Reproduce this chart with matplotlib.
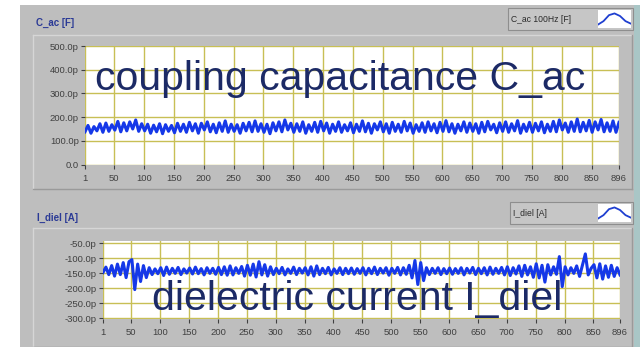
import matplotlib
matplotlib.use("Agg")
import matplotlib.pyplot as plt
from matplotlib.patches import Rectangle
from matplotlib.lines import Line2D

W, H = 640, 347

# ---------------- data ----------------
x_points = list(range(1, 897, 5))  # 1, 6, ..., 896

c_ac_pF = [
    138,165,132,160,142,172,136,175,140,168,
    145,182,138,176,142,180,150,188,140,172,
    142,170,132,166,138,172,130,168,140,165,
    134,174,140,170,136,178,142,172,132,174,
    146,180,138,170,134,176,140,184,136,170,
    140,168,132,174,142,178,138,184,140,172,
    136,170,130,176,142,180,138,188,146,174,
    136,172,140,180,132,168,140,178,136,182,
    142,175,132,170,140,180,136,168,142,176,
    134,170,140,184,138,174,132,172,146,180,
    138,172,132,178,140,170,136,182,142,175,
    132,168,140,176,136,180,142,172,134,178,
    140,185,138,172,132,170,142,180,136,175,
    140,172,132,178,138,182,146,170,134,176,
    140,180,136,172,142,185,132,170,140,178,
    136,174,142,180,134,170,140,182,138,188,
    146,175,136,180,140,192,138,178,142,186,
    136,180,146,190,138,176,140,184,136,178,
]

i_diel_pA = [
    -148,-130,-155,-125,-160,-120,-155,-115,-165,-112,
    -105,-205,-120,-178,-125,-165,-132,-155,-136,-152,
    -132,-158,-130,-154,-134,-151,-131,-155,-136,-150,
    -133,-153,-130,-152,-135,-156,-132,-151,-134,-154,
    -131,-155,-129,-157,-126,-156,-132,-151,-128,-160,
    -124,-157,-120,-163,-112,-156,-122,-160,-129,-155,
    -134,-152,-131,-156,-136,-151,-130,-155,-134,-150,
    -132,-156,-129,-160,-126,-155,-134,-152,-131,-156,
    -136,-151,-132,-155,-134,-152,-133,-154,-135,-151,
    -132,-156,-134,-152,-130,-155,-134,-150,-132,-157,
    -134,-151,-131,-156,-132,-154,-124,-166,-108,-188,
    -115,-175,-132,-155,-134,-151,-132,-155,-135,-152,
    -133,-154,-135,-151,-132,-156,-134,-150,-131,-155,
    -134,-152,-132,-156,-130,-154,-134,-151,-131,-156,
    -129,-158,-132,-153,-126,-161,-124,-156,-129,-164,
    -119,-166,-124,-180,-122,-156,-129,-154,-95,-195,
    -129,-156,-132,-151,-126,-161,-124,-86,-156,-134,
    -122,-166,-119,-170,-126,-164,-124,-161,-132,-156,
]

x_ticks = [1, 50, 100, 150, 200, 250, 300, 350, 400, 450, 500,
           550, 600, 650, 700, 750, 800, 850, 896]
top_yticks = [0, 100, 200, 300, 400, 500]
top_ylabels = ["0.0", "100.0p", "200.0p", "300.0p", "400.0p", "500.0p"]
bot_yticks = [-300, -250, -200, -150, -100, -50]
bot_ylabels = ["-300.0p", "-250.0p", "-200.0p", "-150.0p", "-100.0p", "-50.0p"]

top_title = "C_ac [F]"
bot_title = "I_diel [A]"
top_legend = "C_ac 100Hz [F]"
bot_legend = "I_diel [A]"
top_overlay = "coupling capacitance C_ac"
bot_overlay = "dielectric current I_diel"

# ---------------- styling ----------------
plt.rcParams['font.family'] = ['Liberation Sans', 'DejaVu Sans']
GRAY = '#bebebe'
GRID = '#c8bf55'
LINE = '#1538e8'
TITLE_C = '#2b3a96'
OVER_C = '#1c2a66'
TICK_C = '#404040'

fig = plt.figure(figsize=(W / 100, H / 100), dpi=100)
fig.patch.set_facecolor('white')


def fx(x):
    return x / W


def fy(y):
    return 1 - y / H


def rect(x0, y0, x1, y1, z=0, **kw):
    r = Rectangle((fx(x0), fy(y1)), fx(x1) - fx(x0), fy(y0) - fy(y1),
                  transform=fig.transFigure, zorder=z, **kw)
    fig.add_artist(r)
    return r


def hline(x0, x1, y, color, lw=1):
    fig.add_artist(Line2D([fx(x0), fx(x1)], [fy(y), fy(y)], color=color,
                          lw=lw, transform=fig.transFigure, zorder=-1))


def vline(x, y0, y1, color, lw=1):
    fig.add_artist(Line2D([fx(x), fx(x)], [fy(y0), fy(y1)], color=color,
                          lw=lw, transform=fig.transFigure, zorder=-1))


# background panel
rect(20, 5, 640, 347, z=-3, facecolor=GRAY, edgecolor='none')
rect(634, 5, 640, 347, z=-3, facecolor='#a9c6c6', edgecolor='none')

# panel frames
for (x0, y0, x1, y1) in [(33, 35, 632, 189), (33, 228, 632, 347)]:
    hline(x0, x1, y0, '#d6d6d6')
    vline(x0, y0, y1, '#d6d6d6')
    hline(x0, x1, y1, '#9a9a9a')
    vline(x1, y0, y1, '#9a9a9a')

# titles
fig.text(fx(36), fy(23), top_title, color=TITLE_C, fontsize=7,
         fontweight='bold', va='center', ha='left')
fig.text(fx(37), fy(218), bot_title, color=TITLE_C, fontsize=7,
         fontweight='bold', va='center', ha='left')


# legend boxes
def legend_box(x0, y0, x1, y1, label):
    rect(x0, y0, x1, y1, z=-2, facecolor='#c6c6c6', edgecolor='#8e8e8e', lw=0.8)
    fig.text(fx(x0 + 3), fy((y0 + y1) / 2), label, fontsize=6.2,
             color='#2a2a2a', va='center', ha='left')
    ia = fig.add_axes([fx(x1 - 35), fy(y1 - 2), fx(x1 - 2) - fx(x1 - 35),
                       fy(y0 + 2) - fy(y1 - 2)])
    ia.set_zorder(5)
    ia.set_facecolor('white')
    wx = [0, 1, 2, 3, 4, 5, 6]
    wy = [-0.6, -0.2, 0.5, 0.7, 0.4, -0.2, -0.5]
    ia.plot(wx, wy, color='#1f3fd0', lw=1.3)
    ia.set_xlim(0, 6)
    ia.set_ylim(-1, 1.1)
    ia.set_xticks([])
    ia.set_yticks([])
    for s in ia.spines.values():
        s.set_visible(False)


legend_box(508, 8, 633, 30, top_legend)
legend_box(510, 202, 633, 224, bot_legend)


def setup_axes(ax, yticks, ylabels, ylim):
    ax.set_facecolor('white')
    ax.set_xlim(1, 896)
    ax.set_ylim(*ylim)
    ax.set_xticks(x_ticks)
    ax.set_xticklabels([str(t) for t in x_ticks])
    ax.set_yticks(yticks)
    ax.set_yticklabels(ylabels)
    ax.tick_params(axis='both', direction='out', length=3, width=0.8,
                   colors=TICK_C, labelsize=6.8, pad=1.5)
    ax.tick_params(axis='x', pad=3.5)
    ax.grid(True, color=GRID, lw=1)
    ax.set_axisbelow(True)
    for s in ax.spines.values():
        s.set_visible(False)


# top axes
ax1 = fig.add_axes([fx(85), fy(165), fx(619) - fx(85), fy(46) - fy(165)])
setup_axes(ax1, top_yticks, top_ylabels, (-2, 500))
ax1.plot(x_points, c_ac_pF, color=LINE, lw=2.2, zorder=3)

# bottom axes
ax2 = fig.add_axes([fx(103), fy(319), fx(620) - fx(103), fy(241) - fy(319)])
setup_axes(ax2, bot_yticks, bot_ylabels, (-303, -43))
ax2.plot(x_points, i_diel_pA, color=LINE, lw=2.2, zorder=3)

# overlay texts
fig.text(fx(95), fy(90), top_overlay, fontsize=29.5, color=OVER_C,
         va='baseline', ha='left', zorder=10)
fig.text(fx(152), fy(310), bot_overlay, fontsize=29.5, color=OVER_C,
         va='baseline', ha='left', zorder=10)

fig.savefig('out.png', dpi=100, facecolor=fig.get_facecolor())
